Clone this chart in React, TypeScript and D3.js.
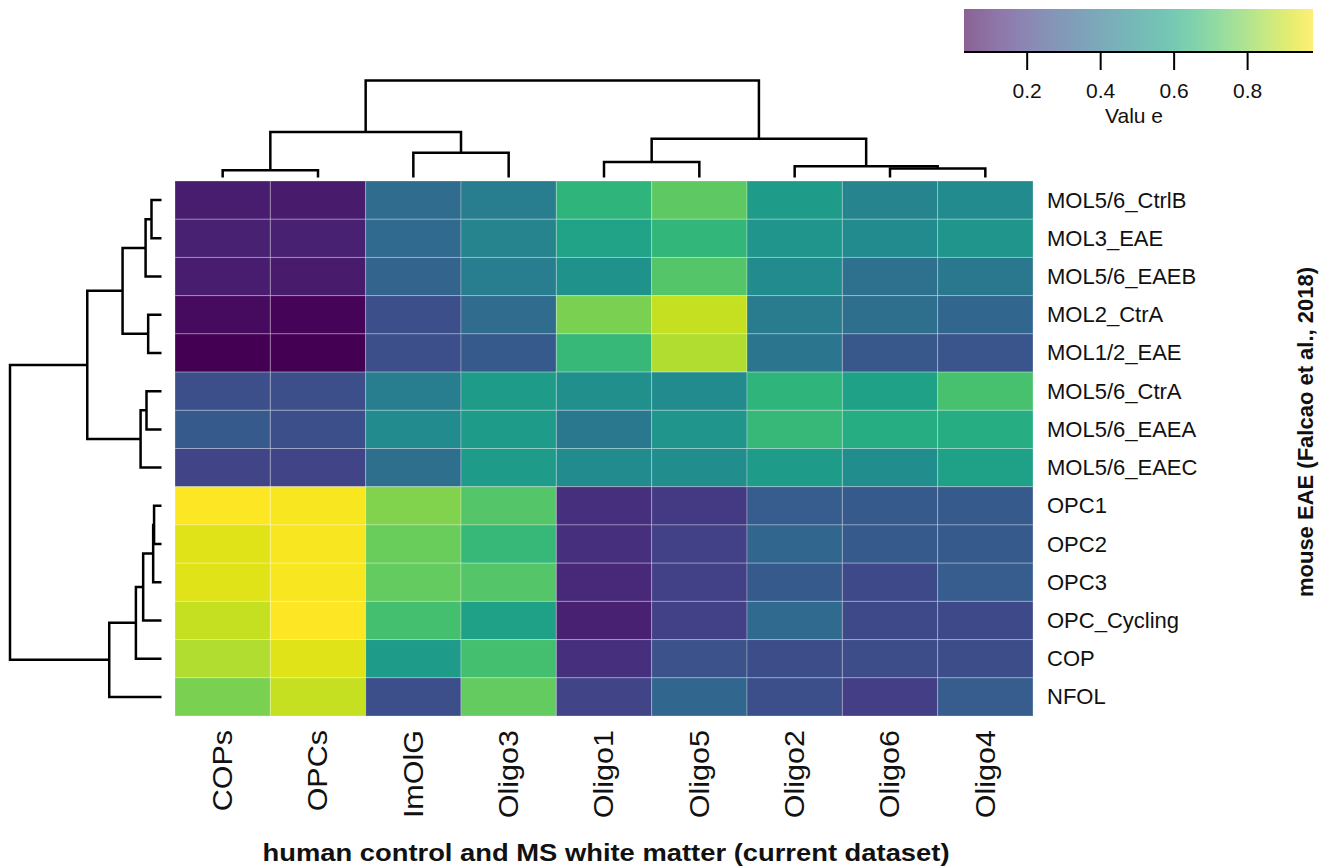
import React from "react";
import * as d3 from "d3";

// ---------- data ----------
const colNames = ["COPs", "OPCs", "ImOlG", "Oligo3", "Oligo1", "Oligo5", "Oligo2", "Oligo6", "Oligo4"];
const rowNames = [
  "MOL5/6_CtrlB", "MOL3_EAE", "MOL5/6_EAEB", "MOL2_CtrA", "MOL1/2_EAE",
  "MOL5/6_CtrA", "MOL5/6_EAEA", "MOL5/6_EAEC",
  "OPC1", "OPC2", "OPC3", "OPC_Cycling", "COP", "NFOL",
];
// values[row][col]
const values = [
  [0.104, 0.095, 0.36, 0.427, 0.646, 0.741, 0.55, 0.456, 0.484],
  [0.114, 0.114, 0.351, 0.456, 0.579, 0.655, 0.522, 0.484, 0.522],
  [0.104, 0.095, 0.332, 0.427, 0.513, 0.722, 0.484, 0.38, 0.408],
  [0.057, 0.038, 0.256, 0.36, 0.788, 0.893, 0.418, 0.37, 0.342],
  [0.028, 0.028, 0.256, 0.294, 0.665, 0.864, 0.399, 0.285, 0.275],
  [0.256, 0.256, 0.427, 0.55, 0.503, 0.484, 0.646, 0.57, 0.703],
  [0.294, 0.256, 0.484, 0.55, 0.408, 0.522, 0.665, 0.617, 0.617],
  [0.218, 0.218, 0.37, 0.55, 0.484, 0.494, 0.55, 0.494, 0.57],
  [0.978, 0.969, 0.798, 0.722, 0.161, 0.19, 0.304, 0.294, 0.294],
  [0.93, 0.969, 0.76, 0.665, 0.161, 0.209, 0.342, 0.294, 0.294],
  [0.93, 0.969, 0.75, 0.722, 0.133, 0.209, 0.294, 0.237, 0.304],
  [0.893, 0.978, 0.693, 0.57, 0.114, 0.209, 0.351, 0.237, 0.237],
  [0.864, 0.93, 0.55, 0.693, 0.161, 0.266, 0.247, 0.247, 0.247],
  [0.788, 0.893, 0.256, 0.75, 0.218, 0.342, 0.256, 0.199, 0.304],
];
// dendrograms: [left, right, height]
const colTree = [
  [["COPs", "OPCs", 0.075], ["ImOlG", "Oligo3", 0.255], 0.47],
  [["Oligo1", "Oligo5", 0.16], ["Oligo2", ["Oligo6", "Oligo4", 0.093], 0.115], 0.4],
  1.0,
];
const rowTree = [
  [
    [[["MOL5/6_CtrlB", "MOL3_EAE", 0.066], "MOL5/6_EAEB", 0.105], ["MOL2_CtrA", "MOL1/2_EAE", 0.088], 0.257],
    [["MOL5/6_CtrA", "MOL5/6_EAEA", 0.099], "MOL5/6_EAEC", 0.138],
    0.49,
  ],
  [[[[["OPC1", "OPC2", 0.049], "OPC3", 0.055], "OPC_Cycling", 0.121], "COP", 0.169], "NFOL", 0.345],
  1.0,
];
const legendTicks = [0.2, 0.4, 0.6, 0.8];
const valueDomain = [0.028, 0.978];
const xTitle = "human control and MS white matter (current dataset)";
const yTitle = "mouse  EAE (Falcao et al., 2018)";
const legendTitle = "Valu e";

// ---------- layout ----------
const W = 1329, H = 867;
const FONT = "'Liberation Sans', Arial, Helvetica, sans-serif";

type Seg = { x: number; h: number };

function layoutTree(tree: any, leafPos: (n: string) => number) {
  const paths: { child: Seg[]; node: Seg }[] = [];
  function rec(t: any): Seg {
    if (!Array.isArray(t)) return { x: leafPos(t), h: 0 };
    const a = rec(t[0]);
    const b = rec(t[1]);
    const node = { x: (a.x + b.x) / 2, h: t[2] };
    paths.push({ child: [a, b], node });
    return node;
  }
  rec(tree);
  return paths;
}

export default function App() {
  const x = d3.scaleBand().domain(colNames).range([175, 1033]);
  const y = d3.scaleBand().domain(rowNames).range([181, 716]);
  const color = d3.scaleSequential(d3.interpolateViridis).domain(valueDomain as [number, number]);

  const colH = d3.scaleLinear().domain([0, 1]).range([177.5, 80.5]);
  const rowH = d3.scaleLinear().domain([0, 1]).range([161.5, 10]);

  const colPaths = layoutTree(colTree, (n) => (x(n) as number) + x.bandwidth() / 2);
  const rowPaths = layoutTree(rowTree, (n) => (y(n) as number) + y.bandwidth() / 2);

  const lx = d3.scaleLinear().domain(valueDomain).range([964, 1313]);
  const gradStops = d3.range(0, 1.0001, 0.05);

  return (
    <svg width={W} height={H} style={{ position: "absolute", left: 0, top: 0, background: "#fff" }} fontFamily={FONT}>
      <defs>
        <linearGradient id="vgrad" x1="0" x2="1" y1="0" y2="0">
          {gradStops.map((t) => (
            <stop key={t} offset={t} stopColor={d3.interpolateViridis(t)} />
          ))}
        </linearGradient>
      </defs>
      <rect width={W} height={H} fill="#fff" />

      {/* heatmap cells */}
      <g>
        {rowNames.map((r, i) =>
          colNames.map((c, j) => (
            <rect
              key={r + c}
              x={x(c)}
              y={y(r)}
              width={x.bandwidth()}
              height={y.bandwidth()}
              fill={color(values[i][j])}
              stroke="rgba(255,255,255,0.28)"
              strokeWidth={1}
            />
          ))
        )}
      </g>

      {/* column dendrogram */}
      <g fill="none" stroke="#000" strokeWidth={2.5}>
        {colPaths.map((p, k) => {
          const [a, b] = p.child;
          return (
            <path key={k} d={`M${a.x},${colH(a.h)}V${colH(p.node.h)}H${b.x}V${colH(b.h)}`} />
          );
        })}
      </g>

      {/* row dendrogram */}
      <g fill="none" stroke="#000" strokeWidth={2.5}>
        {rowPaths.map((p, k) => {
          const [a, b] = p.child;
          return (
            <path key={k} d={`M${rowH(a.h)},${a.x}H${rowH(p.node.h)}V${b.x}H${rowH(b.h)}`} />
          );
        })}
      </g>

      {/* row labels */}
      <g fontSize={22} fill="#111">
        {rowNames.map((r) => (
          <text key={r} x={1047} y={(y(r) as number) + y.bandwidth() / 2} dominantBaseline="central">
            {r}
          </text>
        ))}
      </g>

      {/* column labels */}
      <g fontSize={27} fill="#111">
        {colNames.map((c) => (
          <text
            key={c}
            transform={`translate(${(x(c) as number) + x.bandwidth() / 2},730) rotate(-90) scale(1.13,1)`}
            textAnchor="end"
            dominantBaseline="central"
          >
            {c}
          </text>
        ))}
      </g>

      {/* titles */}
      <text
        x={606}
        y={861}
        textAnchor="middle"
        fontSize={24}
        fontWeight="bold"
        fill="#111"
        textLength={687}
        lengthAdjust="spacingAndGlyphs"
      >
        {xTitle}
      </text>
      <text
        transform="translate(1305,432) rotate(-90)"
        textAnchor="middle"
        dominantBaseline="central"
        fontSize={22}
        fontWeight="bold"
        fill="#111"
      >
        {yTitle}
      </text>

      {/* legend */}
      <rect x={964} y={9} width={349} height={43} fill="url(#vgrad)" opacity={0.62} />
      <line x1={964} x2={1313} y1={52} y2={52} stroke="#000" strokeWidth={2} />
      {legendTicks.map((t) => (
        <g key={t}>
          <line x1={lx(t)} x2={lx(t)} y1={52} y2={70} stroke="#000" strokeWidth={2} />
          <text x={lx(t)} y={98} textAnchor="middle" fontSize={21} fill="#111">
            {t.toFixed(1)}
          </text>
        </g>
      ))}
      <text x={1134} y={123} textAnchor="middle" fontSize={21} fill="#111">
        {legendTitle}
      </text>
    </svg>
  );
}
